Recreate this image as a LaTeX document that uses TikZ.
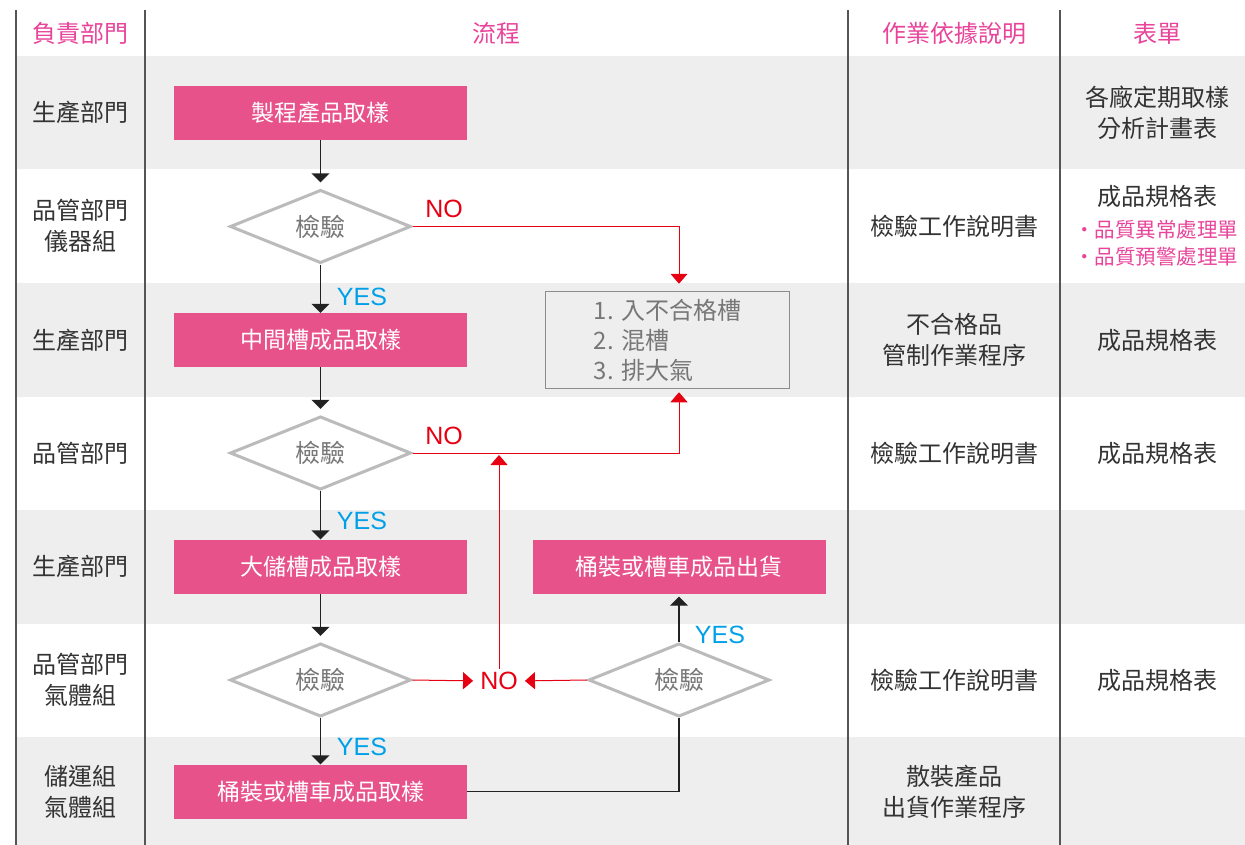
\documentclass[tikz,border=0pt]{standalone}
\usepackage{fontspec}
\setmainfont{Noto Sans CJK TC}
\newfontfamily\latinfont{Liberation Sans}
\usetikzlibrary{arrows.meta,shapes.geometric}
\definecolor{boxpink}{HTML}{E8528A}
\definecolor{headpink}{HTML}{E8449A}
\definecolor{nored}{HTML}{E60012}
\definecolor{yescyan}{HTML}{00A0E9}
\definecolor{band}{HTML}{EEEEEE}
\definecolor{dgray}{HTML}{BBBBBB}
\definecolor{txt}{HTML}{333333}
\definecolor{dtxt}{HTML}{777777}
\definecolor{colline}{HTML}{555555}
\definecolor{gboxline}{HTML}{8C8C8C}
\definecolor{flowline}{HTML}{222222}
\tikzset{
  cjk/.style={font=\fontsize{24}{31}\selectfont},
  head/.style={cjk, text=headpink},
  celltext/.style={cjk, text=txt, align=center},
  procbox/.style={fill=boxpink, text=white, minimum width=293pt, minimum height=54pt, inner sep=0pt, font=\fontsize{23}{28}\selectfont},
  decide/.style={diamond, draw=dgray, line width=3pt, fill=white, minimum width=181pt, minimum height=64pt, inner sep=0pt, text=dtxt, font=\fontsize{25}{28}\selectfont},
  notebox/.style={draw=gboxline, line width=1.5pt, fill=band, minimum width=244pt, minimum height=97pt, align=left, text=dtxt, font=\fontsize{24}{30}\selectfont},
  yeslab/.style={text=yescyan, font=\latinfont\fontsize{25}{28}\selectfont, inner sep=0pt},
  nolab/.style={text=nored, font=\latinfont\fontsize{25}{28}\selectfont, inner sep=0pt},
  flow/.style={draw=flowline, line width=1.4pt, -{Triangle[width=18pt,length=9pt]}},
  noflow/.style={draw=nored, line width=1pt, -{Triangle[width=17pt,length=10pt]}},
  plainflow/.style={draw=flowline, line width=1.2pt},
  colsep/.style={draw=colline, line width=1.5pt},
}
\begin{document}
\begin{tikzpicture}[x=1pt,y=-1pt]
\useasboundingbox (0,0) rectangle (1245,845);
% bands
\fill[band] (16,56) rectangle (1245,169.5);
\fill[band] (16,283) rectangle (1245,396.5);
\fill[band] (16,510) rectangle (1245,623.5);
\fill[band] (16,737) rectangle (1245,845);
% column lines
\draw[colsep] (16,10) -- (16,845);
\draw[colsep] (145,10) -- (145,845);
\draw[colsep] (848,10) -- (848,845);
\draw[colsep] (1060,10) -- (1060,845);
% headers
\node[head] (h1) at (80,33) {負責部門};
\node[head] (h2) at (496,33) {流程};
\node[head] (h3) at (954,33) {作業依據說明};
\node[head] (h4) at (1157,33) {表單};
% departments
\node[celltext] (d1) at (80,112.5) {生產部門};
\node[celltext] (d2) at (80,226) {品管部門\\儀器組};
\node[celltext] (d3) at (80,340) {生產部門};
\node[celltext] (d4) at (80,453) {品管部門};
\node[celltext] (d5) at (80,566.5) {生產部門};
\node[celltext] (d6) at (80,680) {品管部門\\氣體組};
\node[celltext] (d7) at (80,792) {儲運組\\氣體組};
% basis
\node[celltext] (b2) at (954,226) {檢驗工作說明書};
\node[celltext] (b3) at (954,340) {不合格品\\管制作業程序};
\node[celltext] (b4) at (954,453) {檢驗工作說明書};
\node[celltext] (b6) at (954,680) {檢驗工作說明書};
\node[celltext] (b7) at (954,792) {散裝產品\\出貨作業程序};
% forms
\node[celltext] (f1) at (1157,112.5) {各廠定期取樣\\分析計畫表};
\node[celltext] (f2) at (1157,196) {成品規格表};
\node[text=headpink, font=\fontsize{20.5}{27}\selectfont, align=left, anchor=north west, inner sep=0pt] (f2b) at (1074,220) {・品質異常處理單\\・品質預警處理單};
\node[celltext] (f3) at (1157,340) {成品規格表};
\node[celltext] (f4) at (1157,453) {成品規格表};
\node[celltext] (f6) at (1157,680) {成品規格表};
% flow nodes
\node[procbox] (p1) at (320.5,113) {製程產品取樣};
\node[decide] (q1) at (320.5,226.5) {檢驗};
\node[procbox] (p2) at (320.5,340) {中間槽成品取樣};
\node[decide] (q2) at (320.5,453) {檢驗};
\node[procbox] (p3) at (320.5,566.5) {大儲槽成品取樣};
\node[decide] (q3) at (320.5,680) {檢驗};
\node[procbox] (p4) at (320.5,791.5) {桶裝或槽車成品取樣};
\node[procbox] (p5) at (679,566.5) {桶裝或槽車成品出貨};
\node[decide] (q4) at (679,680) {檢驗};
\node[notebox] (nb) at (667.5,340) {1. 入不合格槽\\2. 混槽\\3. 排大氣};
\coordinate (c1) at (679,226.5);
\coordinate (c2) at (679,453);
\coordinate (c4) at (679,791.5);
% labels
\node[yeslab] (y1) at (362,297) {YES};
\node[yeslab] (y2) at (362,521) {YES};
\node[yeslab] (y3) at (362,747) {YES};
\node[yeslab] (y4) at (720,635) {YES};
\node[nolab] (n1) at (444,209) {NO};
\node[nolab] (n2) at (444,436) {NO};
\node[nolab] (n3) at (499,681) {NO};
\coordinate (c3) at (n3.north |- q2.east);
% connectors
\draw[flow, shorten >=6pt] (p1.south) -- (q1.north);
\draw[flow] (q1.south) -- (p2.north);
\draw[flow, shorten >=6pt] (p2.south) -- (q2.north);
\draw[flow] (q2.south) -- (p3.north);
\draw[flow, shorten >=6pt] (p3.south) -- (q3.north);
\draw[flow] (q3.south) -- (p4.north);
\draw[flow, shorten >=3pt] (q4.north) -- (p5.south);
\draw[plainflow] (p4.east) -- (c4) -- (q4.south);
\draw[noflow, shorten >=7pt] (q1.east) -- (c1) -- (c1 |- nb.north);
\draw[noflow, shorten >=3pt] (q2.east) -- (c2) -- (c2 |- nb.south);
\draw[noflow, shorten >=7pt] (q3.east) -- (n3.west);
\draw[noflow, shorten >=7pt] (q4.west) -- (n3.east);
\draw[noflow, shorten >=2pt] ([yshift=3pt]n3.north) -- (c3);
\end{tikzpicture}
\end{document}
